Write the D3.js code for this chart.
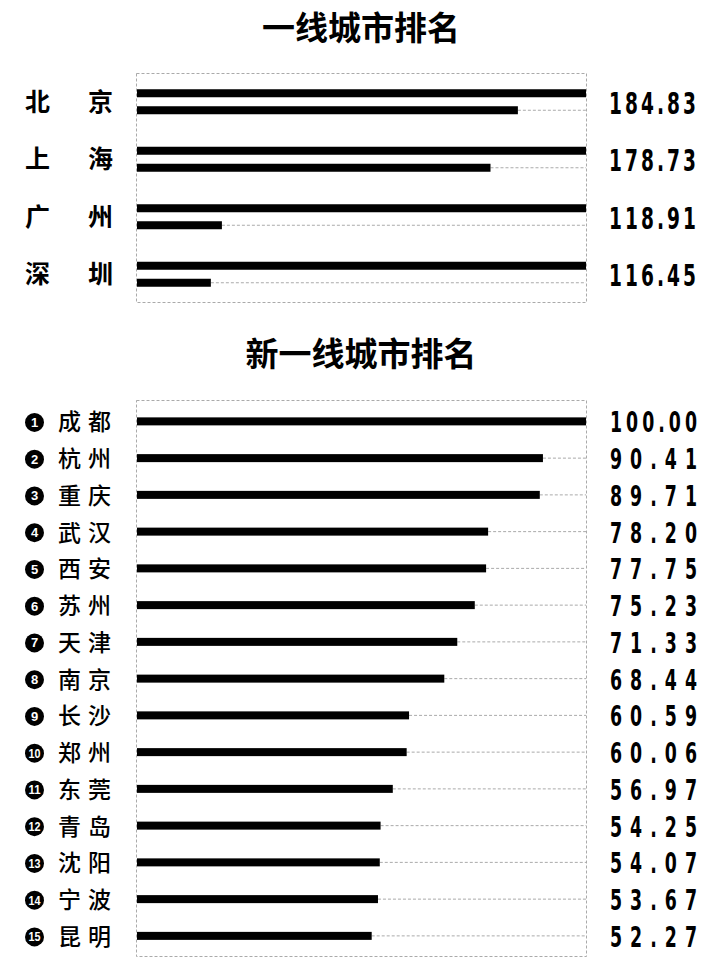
<!DOCTYPE html>
<html>

<head>
    <meta charset="UTF-8">
    <title>城市排名</title>
    <style>
        body { margin: 0; background: #fff; }
    </style>
</head>

<body>
    <script src="https://cdn.jsdelivr.net/npm/d3@7"></script>

    <svg id="chart" width="720" height="970"></svg>

    <script>
        // 一线城市
        const tierOneCities = ["北京", "上海", "广州", "深圳"];
        const tierOneScores = [184.83, 178.73, 118.91, 116.45];
        const tierOneBase = 100; // 第一条满格，第二条为超出100的部分

        // 新一线城市
        const newTierCities = ["成都", "杭州", "重庆", "武汉", "西安", "苏州", "天津", "南京",
            "长沙", "郑州", "东莞", "青岛", "沈阳", "宁波", "昆明"];
        const newTierScores = [100.00, 90.41, 89.71, 78.20, 77.75, 75.23, 71.33, 68.44,
            60.59, 60.06, 56.97, 54.25, 54.07, 53.67, 52.27];

        const titles = ["一线城市排名", "新一线城市排名"];

        const svg = d3.select("#chart");
        const cjk = "'Noto Sans CJK SC', 'Noto Sans', sans-serif";
        const digits = "'DejaVu Sans', sans-serif";
        const grey = "#aaa";
        const barH = 8;
        const squeeze = 0.62; // 横向压缩，模拟窄体数字

        const x = d3.scaleLinear().domain([0, 100]).range([137, 586]);

        const drawBox = function (y0, y1) {
            svg.append("rect")
                .attr("x", x(0) - 0.5)
                .attr("y", y0 + 0.5)
                .attr("width", x(100) - x(0) + 1)
                .attr("height", y1 - y0)
                .attr("fill", "none")
                .attr("stroke", grey)
                .attr("stroke-dasharray", "3,2");
        }

        const drawBar = function (g, cy, v) {
            g.append("line")
                .attr("x1", x(v)).attr("x2", x(100))
                .attr("y1", cy).attr("y2", cy)
                .attr("stroke", grey)
                .attr("stroke-dasharray", "3,2");
            g.append("rect")
                .attr("x", x(0))
                .attr("y", cy - barH / 2)
                .attr("width", x(v) - x(0))
                .attr("height", barH)
                .attr("fill", "#000");
        }

        // 窄体数值
        const drawValue = function (g, tx, ty, size, str) {
            g.append("g")
                .attr("transform", `translate(${tx},${ty}) scale(${squeeze},1)`)
                .append("text")
                .attr("font-family", digits)
                .attr("font-weight", 700)
                .attr("font-size", size)
                .attr("textLength", 87 / squeeze)
                .attr("lengthAdjust", "spacing")
                .text(str);
        }

        // 标题
        svg.selectAll("text.title")
            .data(titles)
            .join("text")
            .attr("class", "title")
            .attr("x", 361)
            .attr("y", (d, i) => i == 0 ? 40 : 366)
            .attr("text-anchor", "middle")
            .attr("font-family", cjk)
            .attr("font-weight", 700)
            .attr("font-size", 33)
            .text(d => d);

        // ---- 一线城市 ----
        const yTop = d3.scaleBand().domain(tierOneCities).range([73, 303]);
        drawBox(73, 302);

        const rowsTop = svg.selectAll("g.top")
            .data(tierOneCities)
            .join("g")
            .attr("class", "top");

        rowsTop.each(function (d, i) {
            const g = d3.select(this);
            const cy = yTop(d) + yTop.bandwidth() / 2;
            drawBar(g, cy - 8.5, tierOneBase);
            drawBar(g, cy + 8.5, tierOneScores[i] - tierOneBase);

            g.append("text")
                .attr("x", 25)
                .attr("y", cy + 9)
                .attr("font-family", cjk)
                .attr("font-weight", 700)
                .attr("font-size", 25)
                .attr("textLength", 88)
                .attr("lengthAdjust", "spacing")
                .text(d);

            drawValue(g, 609, cy + 12, 30, tierOneScores[i].toFixed(2));
        });

        // ---- 新一线城市 ----
        const yNew = d3.scaleBand().domain(newTierCities).range([403, 954.25]);
        drawBox(400, 956);

        const rowsNew = svg.selectAll("g.new")
            .data(newTierCities)
            .join("g")
            .attr("class", "new");

        rowsNew.each(function (d, i) {
            const g = d3.select(this);
            const cy = yNew(d) + yNew.bandwidth() / 2;
            drawBar(g, cy, newTierScores[i]);

            // 序号圆
            g.append("circle")
                .attr("cx", 34.5)
                .attr("cy", cy + 1)
                .attr("r", 9.5)
                .attr("fill", "#000");
            const num = g.append("text")
                .attr("x", 34.5)
                .attr("y", cy + 5.5)
                .attr("text-anchor", "middle")
                .attr("fill", "#fff")
                .attr("font-family", "'Liberation Sans', sans-serif")
                .attr("font-weight", 700)
                .attr("font-size", 13)
                .text(i + 1);
            if (i >= 9) num.attr("textLength", 12).attr("lengthAdjust", "spacingAndGlyphs");

            g.append("text")
                .attr("x", 58)
                .attr("y", cy + 9)
                .attr("font-family", cjk)
                .attr("font-weight", 500)
                .attr("font-size", 23)
                .attr("textLength", 53)
                .attr("lengthAdjust", "spacing")
                .text(d);

            drawValue(g, 610, cy + 11, 28, newTierScores[i].toFixed(2));
        });
    </script>

</body>

</html>
